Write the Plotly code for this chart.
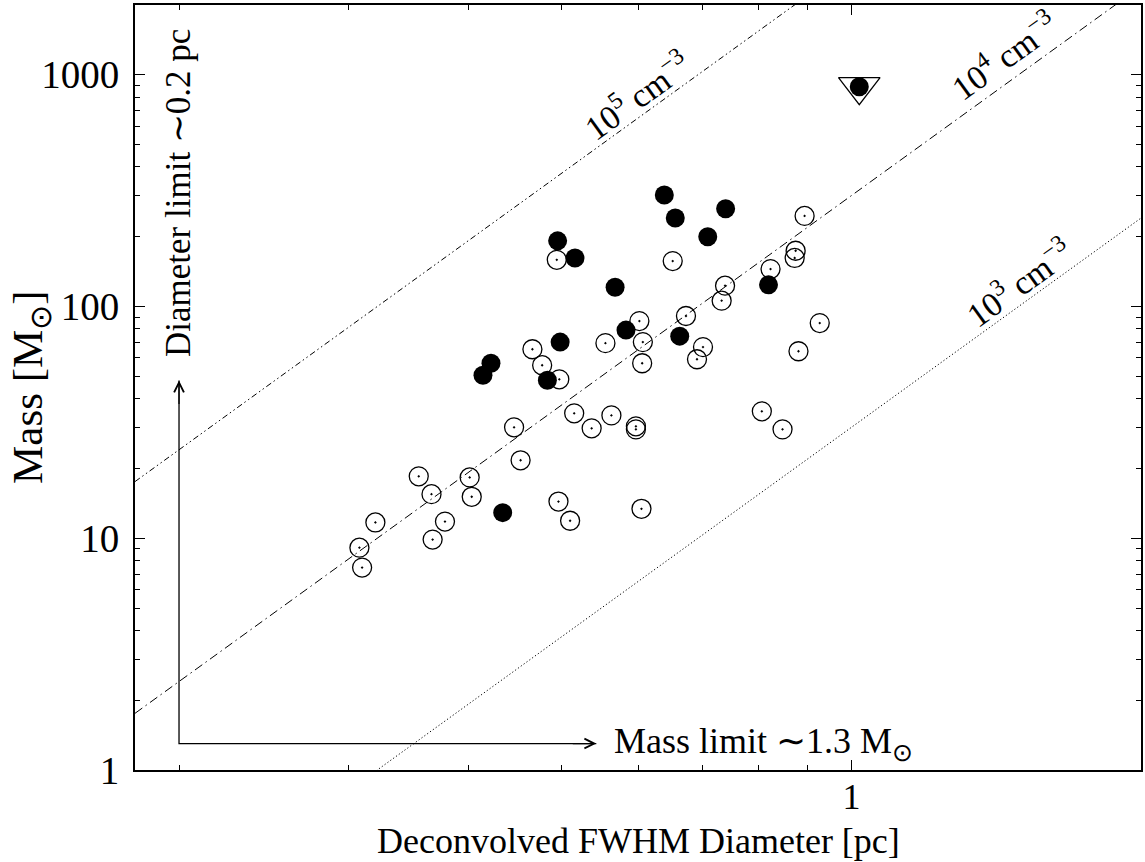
import plotly.graph_objects as go
import numpy as np

# ---------------- data ----------------
# Open circles (deconvolved FWHM diameter [pc], mass [Msun])
open_D = [0.894, 0.875, 0.873, 0.824, 0.739, 0.733, 0.673, 0.652, 0.494, 0.602,
          0.607, 0.606, 0.555, 0.466, 0.477, 0.497, 0.701, 0.691, 0.927, 0.881,
          0.807, 0.848, 0.446, 0.515, 0.537, 0.563, 0.597, 0.597, 0.453, 0.355,
          0.401, 0.403, 0.366, 0.378, 0.320, 0.367, 0.496, 0.510, 0.605, 0.308,
          0.310]
open_M = [246, 174, 162, 145, 123, 106, 91, 157, 159, 86.5,
          70.2, 56.9, 69.5, 65.4, 55.8, 48.5, 66.8, 59.2, 84.8, 64.1,
          35.3, 29.5, 30.1, 34.6, 29.8, 33.9, 30.4, 29.5, 21.7, 18.5,
          18.3, 15.1, 15.5, 11.8, 11.7, 9.87, 14.4, 11.9, 13.4, 9.11,
          7.47]

# Filled circles
fill_D = [1.019, 0.495, 0.516, 0.639, 0.656, 0.740, 0.709, 0.568, 0.820, 0.583,
          0.663, 0.498, 0.422, 0.414, 0.483, 0.434]
fill_M = [888, 192, 162, 303, 241, 264, 200, 121, 124, 79.1,
          74.5, 70.2, 56.9, 50.5, 48.1, 12.9]

# Upper-limit (triangle) marker
limit_D = [1.019]
limit_M = [888]

# Constant-density lines (endpoints across the x range)
line_D = [0.18, 2.0]
line_M_1e5 = [17.56, 24080]
line_M_1e4 = [1.756, 2408]
line_M_1e3 = [0.1756, 240.8]

# Axis ticks
y_major = [1, 10, 100, 1000]
y_minor = [2, 3, 4, 5, 6, 7, 8, 9, 20, 30, 40, 50, 60, 70, 80, 90,
           200, 300, 400, 500, 600, 700, 800, 900, 2000]
x_major = [1]
x_minor = [0.2, 0.3, 0.4, 0.5, 0.6, 0.7, 0.8, 0.9, 2]

# Limits (arrows)
diam_limit = 0.2
mass_limit = 1.3
arrow_top_M = 48
arrow_right_D = 0.543

FONT = "Liberation Serif"

fig = go.Figure()

# density lines
fig.add_trace(go.Scatter(x=line_D, y=line_M_1e5, mode="lines",
                         line=dict(color="black", width=1, dash="6px,3px,1.5px,3px,1.5px,3px"),
                         showlegend=False, hoverinfo="skip"))
fig.add_trace(go.Scatter(x=line_D, y=line_M_1e4, mode="lines",
                         line=dict(color="black", width=1, dash="9px,4px,1.5px,4px"),
                         showlegend=False, hoverinfo="skip"))
fig.add_trace(go.Scatter(x=line_D, y=line_M_1e3, mode="lines",
                         line=dict(color="black", width=1, dash="1.2px,2.3px"),
                         showlegend=False, hoverinfo="skip"))

# limit arrows (shafts)
fig.add_trace(go.Scatter(x=[diam_limit, diam_limit, arrow_right_D],
                         y=[arrow_top_M, mass_limit, mass_limit], mode="lines",
                         line=dict(color="black", width=1.3),
                         showlegend=False, hoverinfo="skip"))

# points
fig.add_trace(go.Scatter(x=limit_D, y=limit_M, mode="markers",
                         marker=dict(symbol="triangle-down-open", size=36,
                                     color="black", line=dict(width=1.3, color="black")),
                         showlegend=False))
fig.add_trace(go.Scatter(x=open_D, y=open_M, mode="markers",
                         marker=dict(symbol="circle-open-dot", size=19,
                                     color="black", line=dict(width=1.3, color="black")),
                         showlegend=False))
fig.add_trace(go.Scatter(x=fill_D, y=fill_M, mode="markers",
                         marker=dict(symbol="circle", size=19, color="black",
                                     line=dict(width=0)),
                         showlegend=False))

ann = []
# arrow heads
ann.append(dict(x=np.log10(diam_limit), y=np.log10(arrow_top_M), xref="x", yref="y",
                ax=0, ay=25, text="", showarrow=True, arrowhead=5, arrowsize=1.6,
                arrowwidth=1.2, arrowcolor="black"))
ann.append(dict(x=np.log10(arrow_right_D), y=np.log10(mass_limit), xref="x", yref="y",
                ax=-25, ay=0, text="", showarrow=True, arrowhead=5, arrowsize=1.6,
                arrowwidth=1.2, arrowcolor="black"))
# texts
ann.append(dict(x=np.log10(diam_limit), y=2.490, xref="x", yref="y",
                text="Diameter limit ∼0.2 pc", textangle=-90, showarrow=False,
                font=dict(family=FONT, size=35, color="black")))
ann.append(dict(x=-0.2488, y=np.log10(mass_limit), xref="x", yref="y",
                text="Mass limit ∼1.3 M<sub>⊙</sub>", xanchor="left", showarrow=False,
                font=dict(family=FONT, size=36, color="black")))
ang = -35.8
ann.append(dict(x=-0.2239, y=2.913, xref="x", yref="y", text="10<sup>5</sup> cm<sup>−3</sup>",
                textangle=ang, showarrow=False, font=dict(family=FONT, size=34, color="black")))
ann.append(dict(x=0.1579, y=3.086, xref="x", yref="y", text="10<sup>4</sup> cm<sup>−3</sup>",
                textangle=ang, showarrow=False, font=dict(family=FONT, size=34, color="black")))
ann.append(dict(x=0.1734, y=2.106, xref="x", yref="y", text="10<sup>3</sup> cm<sup>−3</sup>",
                textangle=ang, showarrow=False, font=dict(family=FONT, size=34, color="black")))
# axis titles
ann.append(dict(x=-0.104, y=0.5, xref="paper", yref="paper", text="Mass [M<sub>⊙</sub>]",
                textangle=-90, showarrow=False, xanchor="center", yanchor="middle",
                font=dict(family=FONT, size=43, color="black")))
ann.append(dict(x=0.5, y=-0.0928, xref="paper", yref="paper",
                text="Deconvolved FWHM Diameter [pc]", showarrow=False,
                xanchor="center", yanchor="middle",
                font=dict(family=FONT, size=36, color="black")))

fig.update_layout(
    width=1145, height=862,
    margin=dict(l=135, r=2, t=5, b=92),
    plot_bgcolor="white", paper_bgcolor="white",
    annotations=ann,
    showlegend=False,
)
fig.update_xaxes(type="log", range=[np.log10(0.18), np.log10(2.0)],
                 showgrid=False, zeroline=False, showline=True, linecolor="black",
                 linewidth=1.8, mirror="ticks", ticks="inside", ticklen=10,
                 tickwidth=1, tickcolor="black", tickmode="array", tickvals=x_major,
                 ticktext=["1"], tickfont=dict(family=FONT, size=36, color="black"),
                 ticklabelstandoff=-6,
                 minor=dict(tickmode="array", tickvals=x_minor, ticks="inside",
                            ticklen=5, tickwidth=1, tickcolor="black", showgrid=False))
fig.update_yaxes(type="log", range=[0, np.log10(2000)],
                 showgrid=False, zeroline=False, showline=True, linecolor="black",
                 linewidth=1.8, mirror="ticks", ticks="inside", ticklen=10,
                 tickwidth=1, tickcolor="black", tickmode="array", tickvals=y_major,
                 ticktext=["1", "10", "100", "1000"],
                 tickfont=dict(family=FONT, size=39, color="black"),
                 ticklabelstandoff=6,
                 minor=dict(tickmode="array", tickvals=y_minor, ticks="inside",
                            ticklen=5, tickwidth=1, tickcolor="black", showgrid=False))

fig.write_html("out.html")
